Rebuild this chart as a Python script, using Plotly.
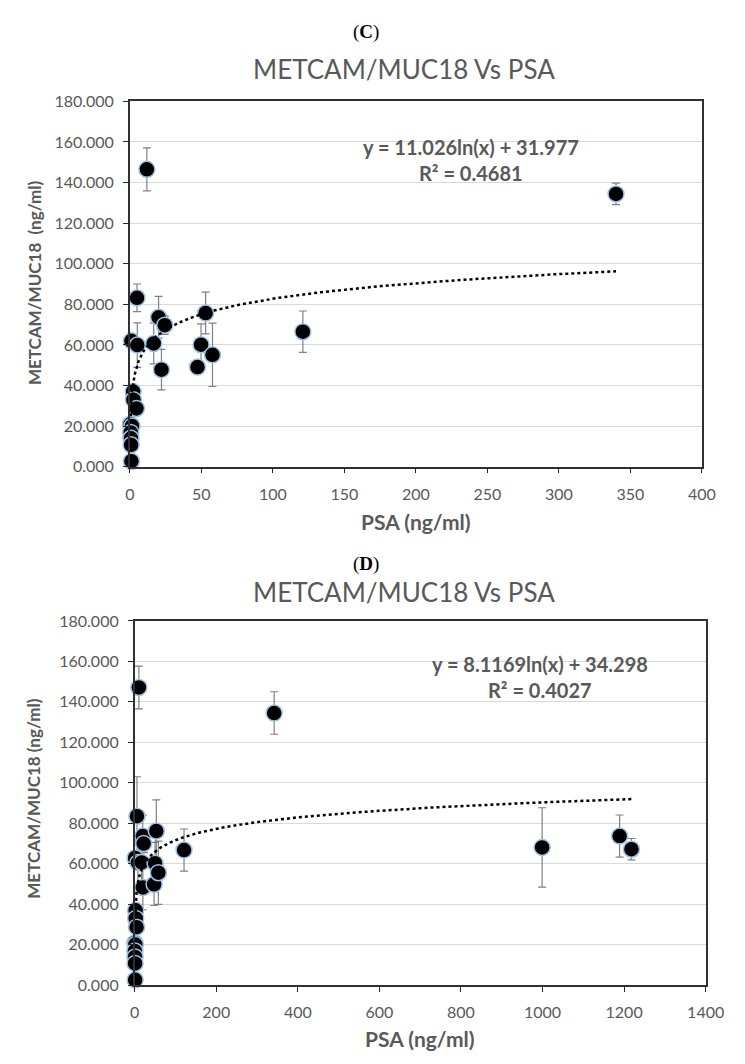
import numpy as np
import plotly.graph_objects as go

# ---- Panel C data: PSA vs METCAM/MUC18 (mean ± SD) ----
psa_c = [11.9, 5.0, 1.1, 5.2, 16.7, 20.1, 24.4, 22.1, 53.0, 49.8, 47.3, 57.8, 121.0, 340.0,
         2.3, 2.5, 4.6, 0.4, 1.5, 0.6, 0.8, 0.9, 1.1]
metcam_c = [146.5, 83.2, 62.0, 59.9, 60.7, 73.6, 69.7, 47.8, 75.7, 60.1, 49.1, 55.1, 66.5, 134.4,
            37.0, 33.0, 28.7, 20.9, 20.1, 16.9, 14.0, 10.8, 2.7]
sd_c = [10.6, 6.8, 3.0, 11.0, 10.0, 10.3, 4.5, 10.0, 10.3, 10.3, 2.0, 15.6, 10.2, 5.3,
        3.0, 3.0, 2.0, 2.0, 2.0, 2.0, 2.0, 2.0, 2.0]

# ---- Panel D data: same cohort plus high-PSA patients ----
psa_d = [10.3, 5.6, 1.1, 7.9, 17.0, 19.8, 22.0, 20.0, 53.0, 50.0, 47.6, 58.0, 121.0, 342.0,
         2.3, 2.5, 4.6, 0.4, 1.5, 0.6, 0.8, 0.9, 1.1, 999.0, 1189.0, 1218.0]
metcam_d = [147.1, 83.5, 62.9, 60.6, 60.7, 73.7, 70.0, 48.3, 76.2, 60.3, 49.9, 55.6, 66.8, 134.5,
            37.0, 33.0, 28.7, 20.9, 20.1, 16.9, 14.0, 10.8, 2.7, 68.1, 73.7, 67.2]
sd_d = [10.6, 19.5, 3.0, 11.0, 10.0, 10.3, 4.5, 11.0, 15.4, 10.3, 10.5, 15.6, 10.4, 10.5,
        3.0, 3.0, 2.0, 2.0, 2.0, 2.0, 2.0, 2.0, 2.0, 19.6, 10.4, 5.3]

# Logarithmic trend lines y = a*ln(x) + b
fit_c = (11.026, 31.977, 0.4681)
fit_d = (8.1169, 34.298, 0.4027)

y_ticks = list(range(0, 181, 20))

W, H = 745, 1064
GREY = "#595959"
FONT = "Lato"


def fx(px):
    return px / W


def fy(py):
    return 1 - py / H


fig = go.Figure()

panels = [
    dict(x=psa_c, y=metcam_c, sd=sd_c, fit=fit_c, xa="x", ya="y"),
    dict(x=psa_d, y=metcam_d, sd=sd_d, fit=fit_d, xa="x2", ya="y2"),
]

for p in panels:
    a, b, _ = p["fit"]
    tx = np.geomspace(min(p["x"]), max(p["x"]), 400)
    fig.add_trace(go.Scatter(
        x=p["x"], y=p["y"], mode="markers", xaxis=p["xa"], yaxis=p["ya"],
        marker=dict(size=16, color="black", line=dict(color="#9dc3e6", width=1.5)),
        error_y=dict(type="data", array=p["sd"], color="#808080", thickness=1.2, width=4),
        cliponaxis=False, showlegend=False, hoverinfo="skip",
    ))
    fig.add_trace(go.Scatter(
        x=tx, y=a * np.log(tx) + b, mode="lines", xaxis=p["xa"], yaxis=p["ya"],
        line=dict(color="black", dash="dot", width=2.5),
        showlegend=False, hoverinfo="skip",
    ))

tickfont = dict(family=FONT, size=16, color=GREY)
common_x = dict(showgrid=False, zeroline=False, ticks="outside", ticklen=5, tickcolor="#262626",
                showline=True, linecolor="#303030", linewidth=1.5, mirror=True,
                tickfont=tickfont, ticklabelstandoff=7)
common_y = dict(range=[0, 180], tickvals=y_ticks, tickformat=".3f", showgrid=True,
                gridcolor="#d9d9d9", gridwidth=1, zeroline=False, ticks="outside", ticklen=5,
                tickcolor="#262626", showline=True, linecolor="#303030", linewidth=1.5,
                mirror=True, tickfont=tickfont, ticklabelstandoff=6)

fig.update_layout(
    width=W, height=H, margin=dict(l=0, r=0, t=0, b=0),
    paper_bgcolor="white", plot_bgcolor="white",
    xaxis=dict(domain=[fx(129), fx(720)], anchor="y", range=[0, 400], dtick=50, **common_x),
    yaxis=dict(domain=[fy(465), fy(93)], anchor="x", **common_y),
    xaxis2=dict(domain=[fx(134), fx(724)], anchor="y2", range=[0, 1400], dtick=200, **common_x),
    yaxis2=dict(domain=[fy(993), fy(622)], anchor="x2", **common_y),
)

ann = []


def text(x, y, s, size, family=FONT, color=GREY, angle=0, bold=False):
    ann.append(dict(x=fx(x), y=fy(y), xref="paper", yref="paper", text=f"<b>{s}</b>" if bold else s,
                    showarrow=False, textangle=angle, xanchor="center", yanchor="middle",
                    font=dict(family=family, size=size, color=color)))


# Panel C labels
text(372.5, 22, "(<b>C</b>)", 19, family="Liberation Serif", color="black")
text(412, 60, "METCAM/MUC18 Vs PSA", 26)
text(482, 140, f"y = {fit_c[0]:.3f}ln(x) + {fit_c[1]:.3f}", 20, bold=True)
text(482, 166, f"R² = {fit_c[2]:.4f}", 20, bold=True)
text(425, 521, "PSA (ng/ml)", 21, bold=True)
text(30, 278, "METCAM/MUC18\u00a0 (ng/ml)", 17, angle=-90, bold=True)

# Panel D labels
text(372.5, 564, "(<b>D</b>)", 19, family="Liberation Serif", color="black")
text(412, 593, "METCAM/MUC18 Vs PSA", 26)
text(553, 666, f"y = {fit_d[0]:.4f}ln(x) + {fit_d[1]:.3f}", 20, bold=True)
text(553, 692, f"R² = {fit_d[2]:.4f}", 20, bold=True)
text(429, 1047, "PSA (ng/ml)", 21, bold=True)
text(30, 803, "METCAM/MUC18 (ng/ml)", 17, angle=-90, bold=True)

fig.update_layout(annotations=ann)
fig.write_html("out.html")
